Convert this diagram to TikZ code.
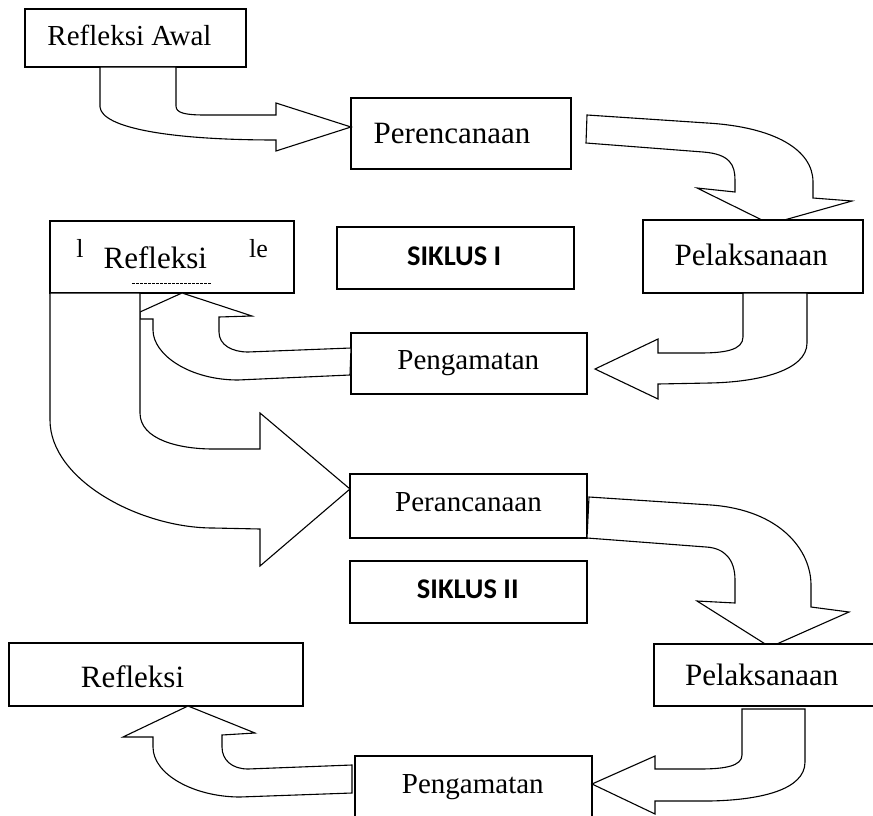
\documentclass[tikz,border=0pt]{standalone}
\usepackage{fontspec}
\setmainfont{Liberation Serif}
\newfontfamily\siklusfont{Carlito}
\usetikzlibrary{calc}

\tikzset{
  stagebox/.style={draw, fill=white, line width=1.1pt, inner sep=0pt, outer sep=0pt},
  cyclebox/.style={stagebox, line width=1.8pt},
  blockarrow/.style={draw, fill=white, line width=1.1pt, line join=miter},
  stagetext/.style={anchor=base, inner sep=0pt, font=\fontsize{31}{35}\selectfont},
  smalltext/.style={stagetext, font=\fontsize{29}{33}\selectfont},
  cycletext/.style={anchor=base, inner sep=0pt, font=\siklusfont\bfseries\fontsize{28.5}{32}\selectfont},
}

\begin{document}
\begin{tikzpicture}[x=1pt, y=-1pt]
  \useasboundingbox (0,0) rectangle (873,816);

  % Boxes
  \node[stagebox, minimum width=221pt, minimum height=58pt] (awal) at (135.5,38) {};
  \node[stagebox, minimum width=220pt, minimum height=71pt] (renc) at (461,133.5) {};
  \node[stagebox, minimum width=244pt, minimum height=72pt] (refl1) at (172,257) {};
  \node[stagebox, minimum width=236pt, minimum height=61pt] (amat1) at (469,363.5) {};
  \node[stagebox, minimum width=237pt, minimum height=64pt] (ranc) at (468.5,506) {};
  \node[stagebox, minimum width=294pt, minimum height=63pt] (refl2) at (156,674.5) {};
  \node[stagebox, minimum width=237pt, minimum height=74pt] (amat2) at (473.5,793) {};

  % Awal -> Perencanaan
  \path[blockarrow] (awal.south -| 100,0) -- (100,107)
    .. controls (102,128) and (170,140) .. (276,140) -- (276,151)
    -- (renc.west |- 0,127) -- (276,103) -- (276,115) -- (205,115)
    .. controls (185,115) and (176,113) .. (176,106) -- (awal.south -| 176,0) -- cycle;

  % Perencanaan -> Pelaksanaan
  \path[blockarrow] (587,115) -- (707,123)
    .. controls (775,127) and (813,150) .. (813,182) -- (813,198) -- (852,201)
    -- (770,224) -- (697,188) -- (735,192) -- (735,180)
    .. controls (735,165) and (730,154) .. (703,152) -- (586,143) -- cycle;
  \node[stagebox, minimum width=220pt, minimum height=73pt] (laks1) at (753,256.5) {};

  % Pelaksanaan -> Pengamatan
  \path[blockarrow] (laks1.south -| 743,0) -- (743,337)
    .. controls (743,350) and (725,353) .. (700,353) -- (658,353) -- (658,339)
    -- (595,369) -- (658,399) -- (658,384) -- (710,383)
    .. controls (760,382) and (807,370) .. (807,343) -- (laks1.south -| 807,0) -- cycle;

  % Pengamatan -> Refleksi
  \path[blockarrow] (amat1.west |- 0,348) -- (248,352)
    .. controls (232,352) and (219,345) .. (219,332) -- (219,317) -- (252,316)
    -- (refl1.south -| 182,0) -- (140,312) -- (140,319) -- (153,319) -- (153,330)
    .. controls (153,355) and (190,380) .. (238,380) -- (350,375) -- cycle;

  % Refleksi -> Perancanaan
  \path[blockarrow] (refl1.south -| 50,0) -- (50,420)
    .. controls (50,480) and (140,528) .. (213,528) -- (260,529) -- (260,566)
    -- (ranc.west |- 0,489) -- (260,413) -- (260,449) -- (213,449)
    .. controls (180,449) and (140,440) .. (140,413) -- (refl1.south -| 140,0) -- cycle;

  % Perancanaan -> Pelaksanaan
  \path[blockarrow] (589,497) -- (711,505)
    .. controls (780,510) and (811,550) .. (811,585) -- (811,607) -- (849,612)
    -- (770,647) -- (697,601) -- (735,603) -- (735,580)
    .. controls (735,560) and (725,548) .. (706,547) -- (ranc.south east) -- cycle;
  \node[stagebox, minimum width=231pt, minimum height=62pt] (laks2) at (769.5,675) {};

  % Pelaksanaan -> Pengamatan
  \path[blockarrow] (742,709) -- (742,755)
    .. controls (742,766) and (725,769) .. (700,769) -- (655,769) -- (655,756)
    -- (amat2.east |- 0,784) -- (655,814) -- (655,801) -- (710,801)
    .. controls (760,800) and (805,790) .. (805,762) -- (805,709) -- cycle;

  % Pengamatan -> Refleksi
  \path[blockarrow] (352,765) -- (248,769)
    .. controls (232,769) and (222,760) .. (222,747) -- (222,735) -- (255,733)
    -- (refl2.south -| 188,0) -- (123,737) -- (153,737) -- (153,747)
    .. controls (153,775) and (195,797) .. (240,797) -- (352,793) -- cycle;

  % Cycle labels
  \node[cyclebox, minimum width=237pt, minimum height=62pt] (siklus1) at (455.5,258) {};
  \node[cyclebox, minimum width=237pt, minimum height=62pt] (siklus2) at (468.5,592) {};

  % Texts
  \node[smalltext] (tawal) at (129.5,45.7) {Refleksi Awal};
  \node[stagetext] (trenc) at (452,143.3) {Perencanaan};
  \node[stagetext] (tlaks1) at (751.3,265) {Pelaksanaan};
  \node[stagetext] (trefl1) at (155.3,268.3) {Refleksi};
  \node[stagetext, font=\fontsize{26}{30}\selectfont] (tfragl) at (80,257) {l};
  \node[stagetext, font=\fontsize{26}{30}\selectfont] (tfragle) at (258.5,257) {le};
  \draw[line width=0.5pt, dash pattern=on 2.5pt off 1.5pt] (refl1.south -| 132,0) ++(0,-10) coordinate (dl) -- (dl -| 212,0);
  \node[smalltext] (tamat1) at (468.3,369.3) {Pengamatan};
  \node[cycletext] (tsik1) at (454.2,265) {SIKLUS I};
  \node[smalltext] (tranc) at (468.5,511) {Perancanaan};
  \node[cycletext] (tsik2) at (467.8,598.3) {SIKLUS II};
  \node[stagetext] (tlaks2) at (761.7,685) {Pelaksanaan};
  \node[stagetext] (trefl2) at (132.5,687.3) {Refleksi};
  \node[smalltext] (tamat2) at (472.8,793.3) {Pengamatan};
\end{tikzpicture}
\end{document}
